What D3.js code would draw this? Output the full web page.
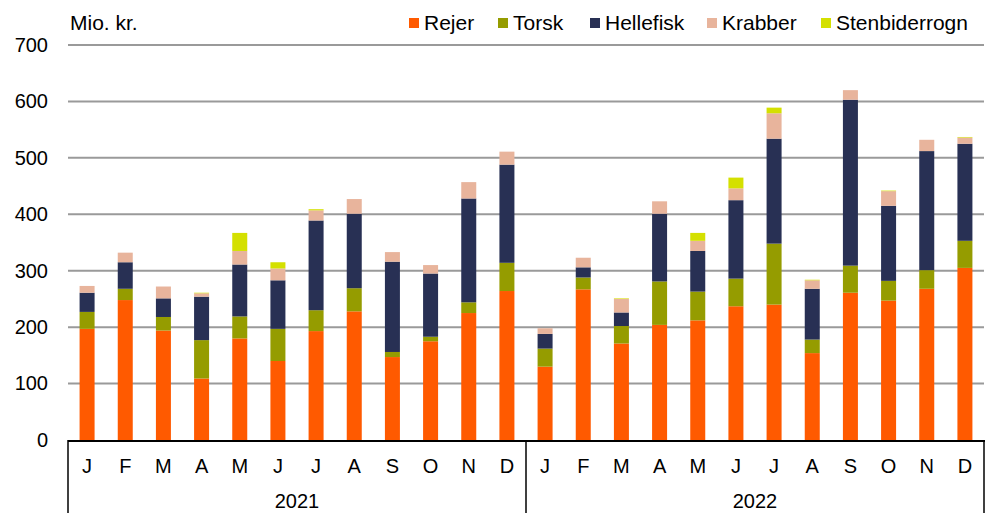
<!DOCTYPE html>
<html><head><meta charset="utf-8">
<script src="https://cdn.jsdelivr.net/npm/d3@7"></script>
<style>body{margin:0;background:#fff}svg{display:block;font-family:"Liberation Sans",Arial,sans-serif}</style>
</head><body>
<svg id="c" width="989" height="513"></svg>
<script>
const months = ["J","F","M","A","M","J","J","A","S","O","N","D"];
const years = ["2021","2022"];
const seriesNames = ["Rejer","Torsk","Hellefisk","Krabber","Stenbiderrogn"];
const colors = ["#FF5A00","#959C00","#283054","#E8B49C","#D4E000"];
const rejer = [197,248,194,109,180,140,193,228,147,175,225,264, 130,267,171,204,212,237,240,154,261,247,268,305];
const torsk = [30,20,24,68,39,57,37,41,9,8,19,50, 32,21,31,77,51,49,108,24,48,35,33,48];
const hellefisk = [34,47,33,77,92,86,159,132,160,112,184,174, 26,18,24,120,72,139,186,90,294,133,211,172];
const krabber = [12,17,21,6,24,21,18,26,17,15,29,23, 10,17,24,22,18,21,45,15,17,26,20,11];
const stenbiderrogn = [0,0,0,1,32,11,2,0,0,0,0,0, 0,0,1,0,14,19,10,1,0,1,0,1];
const yTicks = [0,100,200,300,400,500,600,700];

const svg = d3.select("#c");
const L = 68, R = 984, T = 45, B = 440;
const cats = d3.range(24);
const x = d3.scaleBand().domain(cats).range([L,R]).paddingInner(0.6).paddingOuter(0.3);
const y = d3.scaleLinear().domain([0,700]).range([B,T]);

const rows = cats.map(i => ({i, Rejer:rejer[i], Torsk:torsk[i], Hellefisk:hellefisk[i], Krabber:krabber[i], Stenbiderrogn:stenbiderrogn[i]}));
const stack = d3.stack().keys(seriesNames)(rows);

// gridlines
svg.append("g").selectAll("line").data(yTicks.filter(d=>d>0)).join("line")
  .attr("x1",L).attr("x2",R).attr("y1",d=>y(d)).attr("y2",d=>y(d))
  .attr("stroke","#9a9a9a").attr("stroke-width",2);

// y labels
const yAxis = d3.axisLeft(y).tickValues(yTicks).tickSize(0).tickPadding(0);
const ya = svg.append("g").attr("transform",`translate(48,0)`).call(yAxis);
ya.select(".domain").remove();
ya.selectAll("text").attr("font-size",20).attr("fill","#000").attr("font-family","Liberation Sans, Arial, sans-serif");

// bars
const bw = 15;
svg.append("g").selectAll("g").data(stack).join("g").attr("fill",(d,i)=>colors[i])
  .selectAll("rect").data(d=>d).join("rect")
  .attr("x",d=>x(d.data.i)+x.bandwidth()/2-bw/2).attr("width",bw)
  .attr("y",d=>y(d[1])).attr("height",d=>Math.max(0,y(d[0])-y(d[1])));

// x axis
svg.append("line").attr("x1",L).attr("x2",R+1).attr("y1",B+1).attr("y2",B+1).attr("stroke","#000").attr("stroke-width",2);
const xb = d3.scaleBand().domain(years).range([L,R]);
[L, xb("2022"), R].forEach(v=>{
  svg.append("line").attr("x1",v).attr("x2",v).attr("y1",B).attr("y2",513).attr("stroke","#000").attr("stroke-width",1.5);
});
svg.append("g").selectAll("text").data(cats).join("text")
  .attr("x",d=>x(d)+x.bandwidth()/2).attr("y",473).attr("text-anchor","middle")
  .attr("font-size",20).text(d=>months[d%12]);
svg.append("g").selectAll("text").data(years).join("text")
  .attr("x",d=>xb(d)+xb.bandwidth()/2).attr("y",508).attr("text-anchor","middle")
  .attr("font-size",20).text(d=>d);

// unit label
svg.append("text").attr("x",70).attr("y",30).attr("font-size",21).text("Mio. kr.");

// legend
const legX = [409,498,590,707,821];
const lg = svg.append("g").selectAll("g").data(seriesNames).join("g")
  .attr("transform",(d,i)=>`translate(${legX[i]},0)`);
lg.append("rect").attr("x",0).attr("y",18).attr("width",10).attr("height",10).attr("fill",(d,i)=>colors[i]);
lg.append("text").attr("x",15).attr("y",30).attr("font-size",21).text(d=>d);
</script>
</body></html>
